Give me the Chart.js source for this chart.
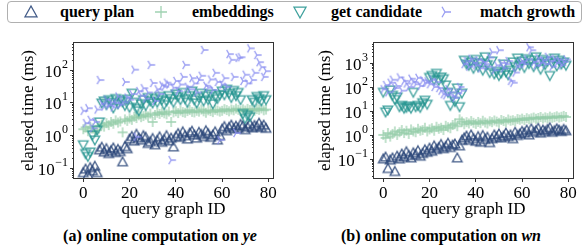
<!DOCTYPE html>
<html>
<head>
<meta charset="utf-8">
<script src="https://cdn.jsdelivr.net/npm/chart.js@4.4.0/dist/chart.umd.min.js"></script>
<style>
  body { margin:0; width:584px; height:252px; background:#fff; position:relative; overflow:hidden; font-family:"Liberation Serif", serif; }
  #legend { position:absolute; left:7px; top:1px; width:575px; height:22px; border:1px solid #b0b0b0; border-radius:4px; box-sizing:border-box; }
  .txt { position:absolute; top:0; line-height:20px; font-weight:bold; font-size:16px; white-space:nowrap; }
  .icon { position:absolute; top:1px; }
  .plot { position:absolute; top:30px; }
  .cap { position:absolute; top:226px; line-height:20px; font-weight:bold; font-size:16px; white-space:nowrap; transform:translateX(-50%); }
</style>
</head>
<body>
<div id="legend"></div>
<canvas id="ye" class="plot" width="292" height="192" style="left:0"></canvas>
<canvas id="wn" class="plot" width="292" height="192" style="left:292px"></canvas>
<div class="cap" style="left:160px">(a) online computation on <i>ye</i></div>
<div class="cap" style="left:441px">(b) online computation on <i>wn</i></div>
<script>
const queryIds = [0,1,2,3,4,5,6,7,8,9,10,11,12,13,14,15,16,17,18,19,
  20,21,22,23,24,25,26,27,28,29,30,31,32,33,34,35,36,37,38,39,
  40,41,42,43,44,45,46,47,48,49,50,51,52,53,54,55,56,57,58,59,
  60,61,62,63,64,65,66,67,68,69,70,71,72,73,74,75,76,77,78,79];
const seriesNames = ['query plan', 'embeddings', 'get candidate', 'match growth'];
const xTicks = [0, 20, 40, 60, 80];

// (a) ye
const qpYe = [0.07,0.09,0.06,0.1,0.08,0.11,0.07,0.35,0.42,0.3,0.38,0.27,0.33,0.4,0.29,0.36,0.31,0.15,0.44,0.38,
  0.75,0.9,0.65,1.05,0.8,0.7,0.95,0.85,0.55,0.62,0.78,0.5,0.68,0.88,0.6,0.72,0.95,0.66,0.8,0.43,
  0.9,1.1,0.85,1.25,0.95,0.75,1.15,1.3,1.0,0.8,1.2,1.05,0.9,1.35,1.1,0.85,1.0,1.25,0.7,0.95,
  1.5,1.8,1.35,1.7,2.0,1.55,1.85,1.6,2.1,1.9,1.45,1.75,2.2,1.65,1.95,1.8,2.3,1.7,2.0,1.6];
const embYe = [1.5,1.7,1.3,1.8,1.6,1.2,1.4,1.9,2.1,1.8,2.3,2.0,2.5,2.2,2.8,2.4,2.6,1.2,3.0,2.7,
  3.2,2.9,3.6,3.3,4.0,3.5,3.8,4.2,3.7,4.5,2.5,4.1,4.8,4.4,5.0,4.6,4.3,5.2,2.5,4.9,
  5.3,4.7,5.6,5.0,4.8,5.4,5.8,5.1,4.9,5.5,5.2,6.0,5.3,4.8,5.7,5.4,5.0,5.9,5.6,5.2,
  5.5,6.2,5.8,5.3,6.0,5.7,6.4,5.9,5.4,6.1,5.6,6.3,5.8,6.0,5.5,6.2,5.9,6.5,5.7,6.0];
const gcYe = [0.5,0.27,0.22,0.3,1.0,0.7,1.4,2.5,9.5,11,8.5,12,10,6.7,13,9,11.5,10.5,8,12.5,
  7,19,10,6.5,5.5,9,12,8,14,11,9.5,13,10,15,12,8.5,11,16,13,10,
  18,15,12,20,13,10,16,22,12,9.5,14,19,11,16,12,18,9,15,13,17,
  22,17,25,19,14,23,16,20,12,4.5,3.2,4,3.6,12,10,15,13,11,16,12];
const mgYe = [5.5,2.3,6.6,2.9,1.6,2.5,6,48,9,7.5,12,8,10,7,9.5,15,8.5,10,42,14,
  12,18,100,0.87,22,16,27,13,20,140,39,11,25,18,33,30,40,35,0.17,28,
  45,22,35,60,140,30,25,55,38,20,48,65,400,32,28,50,24,80,42,0.7,
  35,55,30,300,200,60,1.15,230,240,45,70,38,450,48,80,280,170,120,60,90];

// (b) wn
const qpWn = [0.1,0.12,0.04,0.09,0.11,0.03,0.13,0.1,0.16,0.12,0.2,0.14,0.11,0.18,0.15,0.22,0.13,0.17,0.24,0.19,
  0.28,0.21,0.35,0.25,0.3,0.4,0.27,0.33,0.45,0.3,0.38,0.42,0.11,0.35,0.6,0.75,0.9,0.6,1.0,0.7,
  0.55,0.85,0.5,0.95,0.65,0.8,0.48,0.7,1.0,0.8,1.1,0.75,0.9,1.2,0.85,1.0,0.7,1.3,0.95,1.1,
  1.4,1.2,1.6,1.0,1.8,1.3,1.5,1.9,1.2,1.6,1.4,1.7,2.0,1.3,1.5,1.8,1.6,1.4,1.7,1.5];
const embWn = [1.0,0.75,1.2,0.85,1.1,1.4,1.0,1.3,1.6,1.2,1.5,1.1,1.7,1.4,1.3,1.8,1.5,1.6,2.0,1.4,
  1.7,1.9,1.5,2.2,1.8,2.0,1.6,2.4,2.1,1.9,2.6,3.0,2.3,4.5,3.6,2.8,3.4,3.0,3.8,3.2,
  2.9,3.5,3.1,3.9,3.3,3.0,3.7,3.4,4.0,3.6,3.2,4.2,3.8,3.5,4.4,3.9,4.1,3.7,4.6,4.3,
  4.8,4.2,5.0,4.5,4.9,5.3,4.7,5.1,5.6,4.8,5.4,5.0,5.8,5.2,5.5,6.0,5.3,5.7,6.2,5.6];
const gcWn = [60,9,11,75,45,30,38,15,17,13,14,16,13,60,15,17,14,22,28,19,
  250,300,200,370,190,260,220,120,60,17,40,25,90,15,55,1300,900,800,1100,600,
  1400,700,1000,500,1800,850,400,1200,350,450,300,380,900,420,320,500,1100,700,1600,800,
  1200,650,1500,950,1300,700,1800,1000,550,1400,850,1200,300,1000,1600,750,1300,900,1100,800];
const mgWn = [80,120,60,150,200,90,110,250,70,180,140,100,220,160,130,240,110,190,150,170,
  130,200,100,160,90,70,50,45,80,60,40,35,55,100,70,900,1200,700,1500,1000,
  800,1300,600,1100,900,700,1700,2800,500,800,3400,1000,600,900,1200,180,150,400,700,1000,
  1200,900,1400,4500,3400,1100,800,1600,1000,1300,900,1800,1200,700,1500,1000,1300,800,1100,1400];

const colors = ['rgba(44,72,122,0.9)', 'rgba(150,205,170,0.9)', 'rgba(40,150,145,0.9)', 'rgba(135,140,240,0.85)'];
const kinds = ['up', 'plus', 'down', 'tri'];
const FONT = '"Liberation Serif", serif';

function makeMarker(kind, color, size, r) {
  const c = document.createElement('canvas');
  c.width = c.height = size;
  const g = c.getContext('2d');
  const m = size / 2;
  g.strokeStyle = color;
  g.lineWidth = 1.3;
  g.beginPath();
  if (kind === 'up') {
    g.moveTo(m, m - r); g.lineTo(m + r, m + r * 0.8); g.lineTo(m - r, m + r * 0.8); g.closePath();
  } else if (kind === 'down') {
    g.moveTo(m, m + r); g.lineTo(m + r, m - r * 0.8); g.lineTo(m - r, m - r * 0.8); g.closePath();
  } else if (kind === 'plus') {
    g.moveTo(m - r, m); g.lineTo(m + r, m); g.moveTo(m, m - r); g.lineTo(m, m + r);
  } else {
    g.moveTo(m, m); g.lineTo(m + r, m);
    g.moveTo(m, m); g.lineTo(m - r * 0.5, m - r * 0.87);
    g.moveTo(m, m); g.lineTo(m - r * 0.5, m + r * 0.87);
  }
  g.stroke();
  return c;
}

const markers = kinds.map((k, i) => makeMarker(k, colors[i], 14, k === 'plus' ? 5 : 4.8));

// legend
const legendIcon = [23, 153, 292, 437];
const legendText = [52, 184, 323, 472];
const legend = document.getElementById('legend');
seriesNames.forEach((name, i) => {
  const ic = makeMarker(kinds[i], colors[i], 18, 6);
  ic.className = 'icon';
  ic.style.left = (legendIcon[i] - 9) + 'px';
  legend.appendChild(ic);
  const t = document.createElement('div');
  t.className = 'txt';
  t.style.left = legendText[i] + 'px';
  t.textContent = name;
  legend.appendChild(t);
});

const frame = {
  id: 'frame',
  afterDraw(chart) {
    const { ctx, chartArea: a } = chart;
    const y = chart.scales.y;
    ctx.save();
    ctx.strokeStyle = '#333';
    ctx.lineWidth = 1;
    ctx.strokeRect(a.left - 0.5, a.top - 0.5, a.right - a.left + 1, a.bottom - a.top + 1);
    ctx.fillStyle = '#000';
    for (let e = -3; e <= 4; e++) {
      for (let m = 1; m < 10; m++) {
        const v = m * Math.pow(10, e);
        if (v < y.min || v > y.max) continue;
        const py = Math.round(y.getPixelForValue(v)) + 0.5;
        const len = m === 1 ? 4 : 2;
        ctx.beginPath();
        ctx.moveTo(a.left - len, py);
        ctx.lineTo(a.left, py);
        ctx.stroke();
        if (m === 1) {
          const ex = e < 0 ? '\u2212' + (-e) : String(e);
          ctx.font = '12px ' + FONT;
          const ew = ctx.measureText(ex).width;
          const xr = a.left - 6;
          ctx.textAlign = 'left';
          ctx.textBaseline = 'alphabetic';
          ctx.fillText(ex, xr - ew, py - 3);
          ctx.font = '17px ' + FONT;
          ctx.textAlign = 'right';
          ctx.textBaseline = 'middle';
          ctx.fillText('10', xr - ew - 0.5, py + 2);
        }
      }
    }
    ctx.restore();
  }
};

function makeChart(id, values, yMin, yMax, padLeft, yWidth, padRight) {
  const datasets = values.map((vals, i) => ({
    label: seriesNames[i],
    data: queryIds.map((q, j) => ({ x: q, y: vals[j] })),
    pointStyle: markers[i],
    pointRadius: 5,
    showLine: false,
    order: 4 - i
  }));
  return new Chart(document.getElementById(id), {
    type: 'scatter',
    data: { datasets },
    options: {
      responsive: false,
      animation: false,
      layout: { padding: { left: padLeft, right: padRight, top: 13, bottom: 0 } },
      plugins: { legend: { display: false }, tooltip: { enabled: false } },
      scales: {
        x: {
          type: 'linear', min: -4, max: 82,
          afterBuildTicks: s => { s.ticks = xTicks.map(v => ({ value: v })); },
          afterFit: s => { s.height = 44; },
          grid: { drawOnChartArea: false, tickLength: 4, color: '#333', tickColor: '#333' },
          border: { display: false },
          ticks: { font: { family: FONT, size: 17 }, color: '#000', padding: 1, maxRotation: 0 },
          title: { display: true, text: 'query graph ID', font: { family: FONT, size: 17 }, color: '#000', padding: { top: 0, bottom: 2 } }
        },
        y: {
          type: 'logarithmic', min: yMin, max: yMax,
          afterFit: s => { s.width = yWidth; },
          grid: { display: false },
          border: { display: false },
          ticks: { display: false },
          title: { display: true, text: 'elapsed time (ms)', font: { family: FONT, size: 17 }, color: '#000', padding: 4 }
        }
      }
    },
    plugins: [frame]
  });
}

makeChart('ye', [qpYe, embYe, gcYe, mgYe], 0.048, 655, 14, 60, 19);
makeChart('wn', [qpWn, embWn, gcWn, mgWn], 0.016, 6800, 19, 63, 11);
</script>
</body>
</html>
